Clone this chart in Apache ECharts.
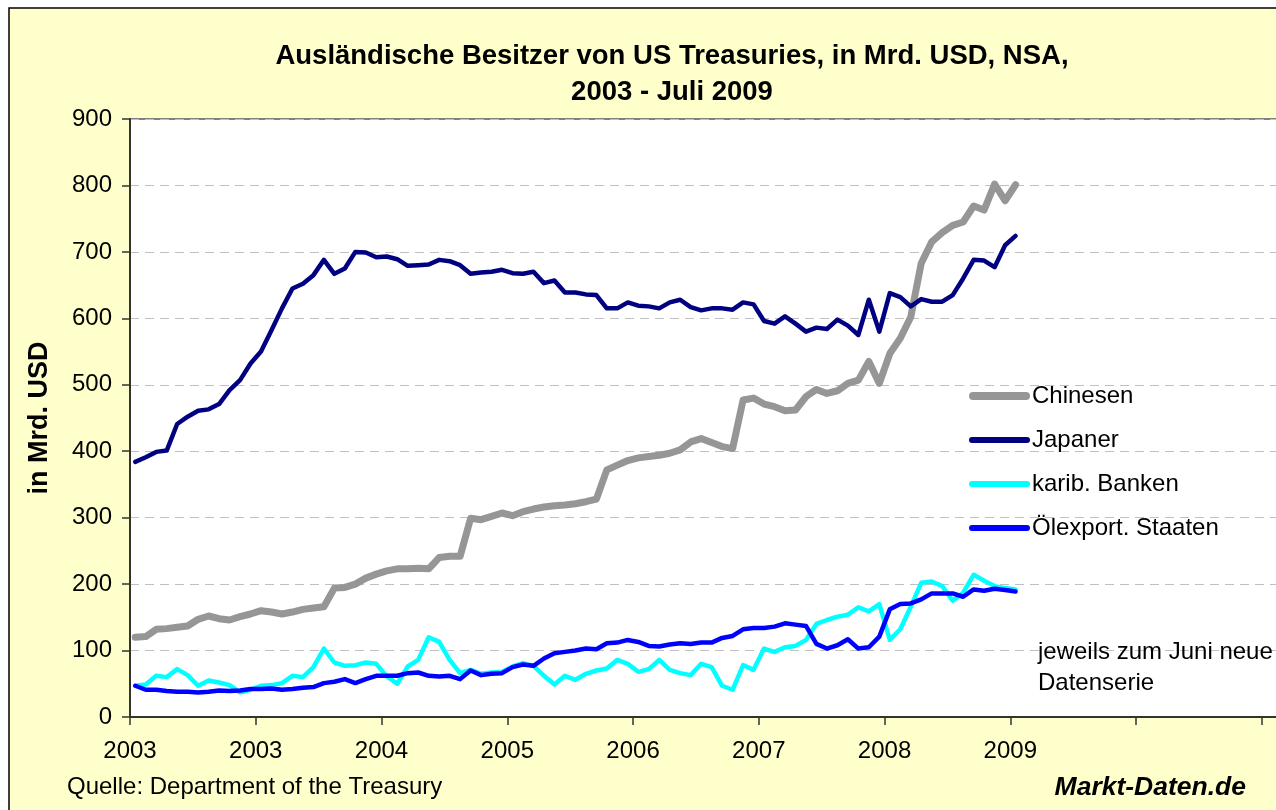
<!DOCTYPE html>
<html>
<head>
<meta charset="utf-8">
<title>Ausländische Besitzer von US Treasuries</title>
<script src="https://cdn.jsdelivr.net/npm/echarts/dist/echarts.min.js"></script>
<style>
  html, body { margin: 0; padding: 0; background: #fff; overflow: hidden; }
  #chart { width: 1400px; height: 810px; }
</style>
</head>
<body>
<div id="chart"></div>
<script>
// Monatswerte (Mrd. USD), Juli 2002 .. Juli 2009
const china = [120, 121, 132, 133, 135, 137, 147, 152, 148, 146, 151, 155, 160, 158, 155, 158, 162, 164, 166, 194,
  195, 200, 209, 215, 220, 223, 223, 224, 223, 240, 242, 242, 299, 297, 302, 307, 303, 309, 313, 316,
  318, 319, 321, 324, 328, 372, 379, 386, 390, 392, 394, 397, 402, 414, 419, 413, 407, 404, 477, 480,
  471, 467, 461, 462, 482, 493, 487, 491, 502, 507, 535, 502, 547, 570, 602, 683, 715, 729, 740, 745,
  769, 763, 802, 777, 801];
const japan = [384, 391, 399, 401, 441, 452, 461, 463, 471, 492, 507, 532, 550, 582, 615, 645, 652, 665, 688, 667,
  675, 700, 699, 692, 693, 689, 679, 680, 681, 688, 686, 680, 667, 669, 670, 673, 668, 667, 670, 653,
  657, 639, 639, 636, 635, 615, 615, 624, 619, 618, 615, 624, 628, 617, 612, 615, 615, 613, 624, 621,
  596, 592, 603, 592, 580, 586, 584, 598, 589, 575, 628, 580, 638, 632, 618, 629, 625, 625, 635, 660,
  688, 687, 677, 710, 724];
const karib = [47, 49, 62, 60, 72, 63, 47, 55, 52, 48, 37, 41, 47, 48, 51, 62, 60, 75, 103, 82,
  77, 78, 82, 80, 61, 50, 76, 86, 120, 113, 86, 66, 71, 65, 67, 68, 76, 81, 77, 62,
  49, 62, 56, 65, 70, 73, 86, 80, 68, 72, 86, 71, 66, 63, 80, 75, 47, 41, 78, 71,
  103, 98, 105, 107, 116, 140, 146, 151, 154, 165, 159, 170, 116, 132, 166, 202, 204, 197, 175, 187,
  214, 205, 197, 194, 192];
const oil = [47, 41, 41, 39, 38, 38, 37, 38, 40, 39, 40, 42, 42, 43, 41, 42, 44, 45, 51, 53,
  57, 51, 57, 62, 62, 62, 66, 67, 62, 61, 62, 57, 70, 63, 65, 66, 75, 79, 77, 88,
  96, 98, 100, 103, 102, 111, 112, 116, 113, 107, 106, 109, 111, 110, 112, 112, 119, 122, 132, 134,
  134, 136, 141, 139, 137, 110, 103, 108, 117, 103, 105, 121, 162, 170, 171, 177, 186, 186, 186, 181,
  192, 190, 193, 191, 189];
const yearLabels = ['2003', '2003', '2004', '2005', '2006', '2007', '2008', '2009'];
const seriesNames = ['Chinesen', 'Japaner', 'karib. Banken', 'Ölexport. Staaten'];

const FONT = '"Liberation Sans", Arial, sans-serif';
const MONTH_PX = 10.48;   // Breite eines Monats auf der x-Achse
const AXIS_MONTHS = 120;  // Achse läuft über den Bildrand hinaus

// Legenden-Icons: Linienstück mit runden Enden (dick für Chinesen)
const ICON_THICK = 'path://M4,0h53a4,4 0 0 1 0,8h-53a4,4 0 0 1 0,-8z';
const ICON_THIN = 'path://M3,0h55a3,3 0 0 1 0,6h-55a3,3 0 0 1 0,-6z';

// jeder Monat sitzt in der Mitte seines Abschnitts
function toPoints(arr) {
  return arr.map(function (v, i) { return [i + 0.5, v]; });
}

function lineSeries(name, data, color, width) {
  return {
    name: name,
    type: 'line',
    data: toPoints(data),
    symbol: 'none',
    showSymbol: false,
    silent: true,
    animation: false,
    lineStyle: { color: color, width: width, cap: 'round', join: 'round' },
    itemStyle: { color: color }
  };
}

const chart = echarts.init(document.getElementById('chart'));

chart.setOption({
  animation: false,
  textStyle: { fontFamily: FONT },
  grid: {
    left: 130,
    top: 119,
    width: AXIS_MONTHS * MONTH_PX,
    height: 598,
    show: true,
    backgroundColor: '#ffffff',
    borderColor: '#808080',
    borderWidth: 2,
    containLabel: false,
    outerBoundsMode: 'none'
  },
  graphic: [
    { // Rahmen + gelber Hintergrund
      type: 'rect', z: -10, silent: true,
      shape: { x: 9, y: 8, width: 1500, height: 900 },
      style: { fill: '#FFFFCC', stroke: '#000', lineWidth: 1.5 }
    },
    {
      type: 'text', z: 10, silent: true, x: 672, y: 56,
      style: { text: 'Ausländische Besitzer von US Treasuries, in Mrd. USD, NSA,', fill: '#000',
        font: 'bold 27.5px ' + FONT, align: 'center', verticalAlign: 'middle' }
    },
    {
      type: 'text', z: 10, silent: true, x: 672, y: 92,
      style: { text: '2003 - Juli 2009', fill: '#000',
        font: 'bold 27.5px ' + FONT, align: 'center', verticalAlign: 'middle' }
    },
    {
      type: 'text', z: 10, silent: true, x: 1038, y: 668,
      style: { text: 'jeweils zum Juni neue\nDatenserie', fill: '#000', lineHeight: 31,
        font: '24px ' + FONT, align: 'left', verticalAlign: 'middle' }
    },
    {
      type: 'text', z: 10, silent: true, x: 67, y: 787,
      style: { text: 'Quelle: Department of the Treasury', fill: '#000',
        font: '24px ' + FONT, align: 'left', verticalAlign: 'middle' }
    },
    {
      type: 'text', z: 10, silent: true, x: 1246, y: 788,
      style: { text: 'Markt-Daten.de', fill: '#000',
        font: 'italic bold 26.5px ' + FONT, align: 'right', verticalAlign: 'middle' }
    }
  ],
  legend: {
    orient: 'vertical',
    left: 969,
    top: 384,
    padding: 0,
    itemWidth: 61,
    itemHeight: 14,
    itemGap: 20,
    selectedMode: false,
    data: [
      { name: seriesNames[0], icon: ICON_THICK },
      { name: seriesNames[1], icon: ICON_THIN },
      { name: seriesNames[2], icon: ICON_THIN },
      { name: seriesNames[3], icon: ICON_THIN }
    ],
    textStyle: { fontSize: 24, color: '#000', fontFamily: FONT, padding: [0, 0, 0, -3] }
  },
  xAxis: {
    type: 'value',
    min: 0,
    max: AXIS_MONTHS,
    interval: 12,
    axisLine: { show: true, onZero: false, lineStyle: { color: '#333', width: 2 } },
    axisTick: { show: true, inside: false, length: 8, lineStyle: { color: '#333', width: 1.5 } },
    splitLine: { show: false },
    axisLabel: {
      fontSize: 24,
      color: '#000',
      margin: 22,
      showMaxLabel: false,
      formatter: function (val) {
        const k = Math.round(val / 12);
        return yearLabels[k] || '';
      }
    }
  },
  yAxis: {
    type: 'value',
    min: 0,
    max: 900,
    interval: 100,
    name: 'in Mrd. USD',
    nameLocation: 'middle',
    nameRotate: 90,
    nameGap: 77,
    nameTextStyle: { fontSize: 27, fontWeight: 'bold', color: '#000', fontFamily: FONT },
    axisLine: { show: true, lineStyle: { color: '#333', width: 2 } },
    axisTick: { show: true, length: 8, lineStyle: { color: '#333', width: 1.5 } },
    axisLabel: { fontSize: 24, color: '#000', margin: 18 },
    splitLine: { show: true, lineStyle: { color: '#C0C0C0', width: 1.2, type: [9, 6] } }
  },
  series: [
    lineSeries(seriesNames[0], china, '#969696', 7),
    lineSeries(seriesNames[1], japan, '#000080', 4.5),
    lineSeries(seriesNames[2], karib, '#00FFFF', 4.5),
    lineSeries(seriesNames[3], oil, '#0000FF', 4.5)
  ]
});
</script>
</body>
</html>
